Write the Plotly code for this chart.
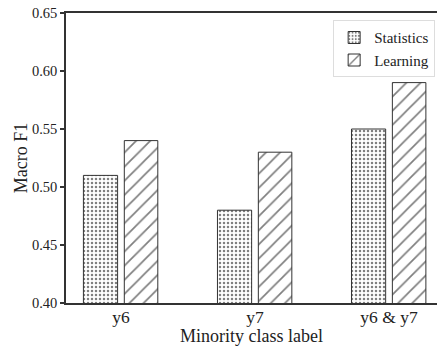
import plotly.graph_objects as go

categories = ["y6", "y7", "y6 & y7"]
statistics_f1 = [0.51, 0.48, 0.55]
learning_f1 = [0.54, 0.53, 0.59]
y_ticks = [0.40, 0.45, 0.50, 0.55, 0.60, 0.65]

FONT = "Liberation Serif"
x_pos = list(range(len(categories)))

fig = go.Figure()
fig.add_trace(go.Bar(
    x=x_pos, y=statistics_f1, name="Statistics",
    width=0.255, offset=-0.28,
    marker=dict(color="white", line=dict(color="#333333", width=1),
                pattern=dict(shape=".", size=4, solidity=0.3, fgcolor="black", bgcolor="white")),
))
fig.add_trace(go.Bar(
    x=x_pos, y=learning_f1, name="Learning",
    width=0.25, offset=0.025,
    marker=dict(color="white", line=dict(color="#333333", width=1),
                pattern=dict(shape="/", size=10, solidity=0.17, fgcolor="black", bgcolor="white")),
))

fig.update_layout(
    width=437, height=346,
    margin=dict(l=66, r=0, t=13, b=43),
    plot_bgcolor="white", paper_bgcolor="white",
    font=dict(family=FONT, color="#222222", size=15),
    showlegend=True,
    legend=dict(x=0.995, y=0.975, xanchor="right", yanchor="top",
                bgcolor="white", bordercolor="#dddddd", borderwidth=1,
                font=dict(family=FONT, size=15, color="#222222"),
                itemwidth=30, tracegroupgap=2),
    xaxis=dict(
        range=[-0.41, 2.358], tickmode="array", tickvals=x_pos, ticktext=categories,
        showline=True, linecolor="#333333", linewidth=1.5, mirror=True,
        ticks="", showgrid=False, zeroline=False,
        ticklabelstandoff=-3,
        tickfont=dict(size=17.5, family=FONT),
        title=dict(text="Minority class label", font=dict(size=18, family=FONT), standoff=0),
    ),
    yaxis=dict(
        range=[0.40, 0.65], tickmode="array", tickvals=y_ticks,
        ticktext=[f"{v:.2f}" for v in y_ticks],
        showline=True, linecolor="#333333", linewidth=1.5,
        ticks="outside", ticklen=4, tickwidth=1.5, tickcolor="#333333",
        showgrid=False, zeroline=False,
        tickfont=dict(size=14.5, family=FONT),
        title=dict(text="Macro F1", font=dict(size=18, family=FONT), standoff=0),
    ),
)

fig.write_html("out.html")
